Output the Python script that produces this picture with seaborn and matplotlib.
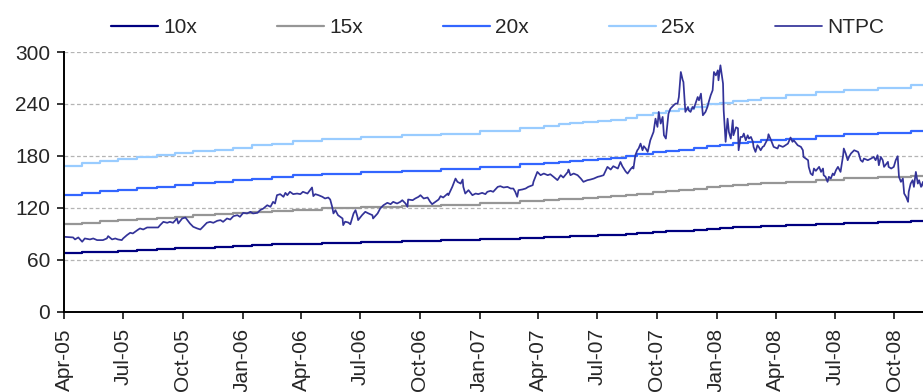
import matplotlib
matplotlib.use("Agg")
import matplotlib.pyplot as plt
import matplotlib.dates as mdates
import seaborn as sns
import pandas as pd
import numpy as np

# ---------------- data ----------------
start_date = "2005-04-01"
end_date = "2008-11-14"

# EPS used for the P/E bands (step changes), as days after start_date
eps_day = [0, 28, 56, 83, 113, 143, 171, 199, 233, 261, 290, 321, 352, 398, 458,
           520, 580, 641, 703, 739, 762, 780, 800, 822, 842, 865, 883, 907, 927,
           947, 970, 991, 1011, 1031, 1053, 1073, 1112, 1158, 1201, 1253, 1304, 1324]
eps_value = [6.74, 6.85, 6.95, 7.05, 7.15, 7.23, 7.31, 7.41, 7.49, 7.58, 7.68, 7.77,
             7.87, 7.96, 8.06, 8.15, 8.23, 8.36, 8.51, 8.60, 8.66, 8.71, 8.77, 8.83,
             8.88, 8.97, 9.10, 9.20, 9.28, 9.36, 9.46, 9.58, 9.65, 9.73, 9.80, 9.89,
             10.00, 10.15, 10.26, 10.35, 10.46, 10.46]
multiples = [10, 15, 20, 25]
band_labels = ["10x", "15x", "20x", "25x"]

# NTPC share price, as days after start_date
price_day = [0, 14, 17, 22, 28, 32, 40, 45, 51, 60, 66, 68, 74, 79, 83, 89, 91, 97, 102,
             106, 113, 117, 122, 128, 145, 148, 153, 159, 163, 168, 174, 176, 182, 187,
             190, 194, 199, 205, 210, 214, 220, 225, 230, 236, 241, 245, 251, 256, 261,
             267, 271, 276, 282, 287, 291, 298, 302, 307, 313, 318, 322, 325, 328, 333,
             338, 341, 344, 348, 353, 359, 364, 368, 375, 379, 382, 384, 387, 392, 398,
             402, 407, 410, 413, 415, 418, 422, 429, 430, 433, 438, 441, 446, 449, 452,
             453, 459, 464, 469, 475, 476, 483, 487, 492, 498, 503, 507, 513, 518, 521,
             526, 529, 530, 537, 541, 546, 549, 554, 560, 564, 567, 572, 577, 580, 584,
             591, 592, 598, 603, 606, 611, 614, 615, 618, 623, 629, 634, 638, 644, 649,
             652, 657, 661, 668, 672, 677, 683, 688, 692, 695, 698, 700, 706, 711, 715,
             722, 723, 726, 729, 734, 739, 745, 749, 754, 760, 765, 769, 776, 777, 780,
             785, 791, 796, 800, 806, 811, 816, 822, 826, 831, 837, 842, 846, 853, 857,
             860, 865, 868, 873, 876, 877, 880, 883, 885, 888, 891, 893, 896, 899, 903,
             908, 911, 914, 916, 919, 922, 924, 927, 930, 931, 934, 939, 942, 945, 947,
             950, 953, 954, 957, 961, 962, 965, 968, 970, 976, 978, 981, 984, 988, 991,
             993, 996, 999, 1001, 1004, 1007, 1008, 1011, 1015, 1016, 1019, 1022, 1024,
             1027, 1030, 1031, 1035, 1038, 1039, 1042, 1045, 1047, 1050, 1053, 1055,
             1058, 1061, 1062, 1065, 1068, 1070, 1073, 1076, 1078, 1084, 1085, 1089,
             1093, 1099, 1101, 1107, 1109, 1115, 1119, 1122, 1124, 1130, 1135, 1138,
             1139, 1146, 1147, 1150, 1153, 1155, 1158, 1163, 1166, 1169, 1170, 1173,
             1176, 1178, 1181, 1184, 1186, 1189, 1192, 1196, 1200, 1201, 1204, 1207,
             1209, 1212, 1217, 1223, 1224, 1227, 1230, 1232, 1238, 1243, 1247, 1250,
             1253, 1255, 1258, 1261, 1263, 1269, 1270, 1274, 1278, 1281, 1284, 1286,
             1289, 1292, 1294, 1297, 1300, 1301, 1304, 1307, 1309, 1312, 1315, 1317,
             1320, 1323, 1324]
price = [86.5, 85.8, 83.5, 85.8, 80.8, 84.6, 83.5, 84.6, 82.7, 82.7, 84.6, 87.3, 83.5,
         84.6, 83.5, 82.7, 84.6, 88.5, 91.2, 90.4, 94.2, 96.2, 95.0, 97.3, 97.3, 100.0,
         103.8, 102.7, 103.8, 102.7, 107.7, 101.9, 107.7, 108.8, 105.8, 101.9, 98.1,
         96.2, 95.0, 98.0, 102.7, 103.8, 102.7, 105.0, 105.8, 103.8, 107.7, 106.5, 110.4,
         111.5, 109.6, 114.2, 113.5, 115.4, 113.5, 114.2, 117.3, 119.2, 123.0, 121.2,
         126.9, 125.0, 134.6, 135.8, 132.7, 137.3, 134.6, 138.5, 135.8, 136.5, 135.8,
         138.5, 136.5, 140.4, 143.5, 133.5, 135.8, 134.6, 132.7, 130.8, 131.9, 129.6,
         121.2, 113.5, 117.3, 111.5, 107.7, 100.0, 104.0, 103.0, 101.0, 113.5, 117.3,
         109.6, 105.8, 111.5, 115.4, 113.5, 111.5, 107.7, 113.5, 119.2, 123.0, 125.8,
         124.2, 126.9, 125.0, 126.9, 128.8, 125.0, 121.2, 129.6, 128.8, 130.8, 132.7,
         134.6, 130.8, 131.9, 126.9, 124.2, 126.9, 129.6, 133.5, 131.9, 136.5, 134.6,
         144.2, 153.8, 150.0, 148.0, 152.7, 144.2, 136.5, 140.4, 134.6, 136.5, 135.8,
         137.3, 135.8, 138.5, 139.6, 138.5, 144.2, 145.0, 143.5, 144.2, 142.3, 142.3,
         138.5, 132.7, 140.4, 141.2, 142.3, 144.2, 146.2, 150.0, 155.8, 161.5, 157.7,
         159.6, 157.7, 158.8, 155.8, 152.0, 157.7, 155.0, 161.5, 164.2, 157.7, 159.6,
         157.7, 153.8, 150.0, 151.9, 152.7, 153.8, 155.8, 156.5, 157.7, 167.3, 164.2,
         168.1, 165.4, 173.0, 168.0, 162.0, 159.6, 165.0, 167.3, 165.4, 180.8, 186.5,
         188.5, 194.2, 186.5, 191.2, 188.5, 184.6, 198.0, 207.7, 223.0, 213.5, 230.8,
         217.3, 225.0, 203.8, 200.0, 221.2, 228.8, 234.6, 238.5, 240.4, 240.4, 248.0,
         276.9, 267.3, 265.4, 230.8, 236.5, 232.7, 230.8, 236.5, 234.6, 248.0, 244.2,
         251.9, 226.9, 230.8, 236.5, 242.3, 250.0, 255.8, 276.9, 273.0, 278.8, 267.3,
         284.6, 263.5, 232.7, 196.2, 223.0, 207.7, 200.0, 221.2, 203.8, 213.0, 211.9,
         186.5, 201.9, 201.9, 205.8, 198.0, 203.8, 200.0, 201.9, 196.2, 190.4, 184.6,
         192.3, 190.4, 186.5, 190.4, 191.2, 200.0, 205.0, 198.0, 190.4, 188.5, 192.3,
         190.4, 191.2, 194.2, 201.2, 196.2, 198.0, 192.3, 190.4, 186.5, 178.8, 175.0,
         167.3, 159.6, 157.7, 165.4, 162.7, 167.3, 161.5, 165.4, 157.7, 155.8, 150.0,
         155.8, 153.8, 159.6, 157.7, 163.5, 167.3, 161.5, 180.8, 188.5, 182.7, 175.0,
         178.8, 182.7, 186.5, 184.6, 182.7, 175.0, 173.1, 176.9, 175.0, 176.9, 178.8,
         175.0, 180.8, 169.2, 178.8, 175.0, 167.3, 173.1, 167.3, 165.4, 167.3, 175.0,
         179.6, 155.8, 150.0, 153.8, 136.5, 132.7, 126.9, 138.5, 148.0, 151.9, 144.2,
         161.5, 148.0, 151.9, 144.2, 150.0, 144.2]

yticks = [0, 60, 120, 180, 240, 300]

band_colors = ["#000080", "#969696", "#3366FF", "#99CCFF"]
ntpc_color = "#333399"

# ---------------- build tables ----------------
t0 = pd.Timestamp(start_date)
bands = pd.DataFrame({"date": t0 + pd.to_timedelta(eps_day, unit="D")})
for m, lab in zip(multiples, band_labels):
    bands[lab] = np.array(eps_value) * m
px = pd.DataFrame({"date": t0 + pd.to_timedelta(price_day, unit="D"), "NTPC": price})

# ---------------- style ----------------
sns.set_style("white")
plt.rcParams["font.family"] = ["Liberation Sans", "DejaVu Sans"]
plt.rcParams["font.size"] = 15

fig = plt.figure(figsize=(9.23, 3.92), dpi=100)
ax = fig.add_axes([64 / 923, 80.3 / 392, 1 - 64 / 923, 259.7 / 392])

for lab, col in zip(band_labels, band_colors):
    sns.lineplot(data=bands, x="date", y=lab, ax=ax, color=col, lw=1.6,
                 drawstyle="steps-post", label=lab, sort=False, estimator=None)
sns.lineplot(data=px, x="date", y="NTPC", ax=ax, color=ntpc_color, lw=1.25,
             label="NTPC", sort=False, estimator=None)

ax.set_xlim(pd.Timestamp(start_date), pd.Timestamp(end_date))
ax.set_ylim(0, 300)
ax.set_yticks(yticks)
ax.set_xticks(pd.date_range("2005-04-01", "2008-10-01", freq="QS-JAN"))
ax.xaxis.set_major_formatter(mdates.DateFormatter("%b-%y"))
ax.set_xlabel("")
ax.set_ylabel("")

ax.yaxis.grid(True, color="#b4b4b4", linestyle=(0, (3, 2)), lw=0.9)
ax.xaxis.grid(False)
ax.set_axisbelow(True)

for s in ["top", "right"]:
    ax.spines[s].set_visible(False)
for s in ["left", "bottom"]:
    ax.spines[s].set_color("black")
    ax.spines[s].set_linewidth(1.4)

ax.tick_params(axis="both", which="major", direction="out", length=5, width=1.1,
               color="black", labelsize=15, left=True, bottom=True)
ax.tick_params(axis="y", pad=5)
ax.tick_params(axis="x", pad=7)
plt.setp(ax.get_xticklabels(), rotation=90, ha="center", va="top")

ax.get_legend().remove()
handles, labels = ax.get_legend_handles_labels()
fig.legend(handles, labels, loc="center", bbox_to_anchor=(0.539, 0.93), ncol=5,
           frameon=False, handlelength=2.25, handletextpad=0.25, columnspacing=3.85,
           fontsize=15)

fig.savefig("out.png", dpi=100)
